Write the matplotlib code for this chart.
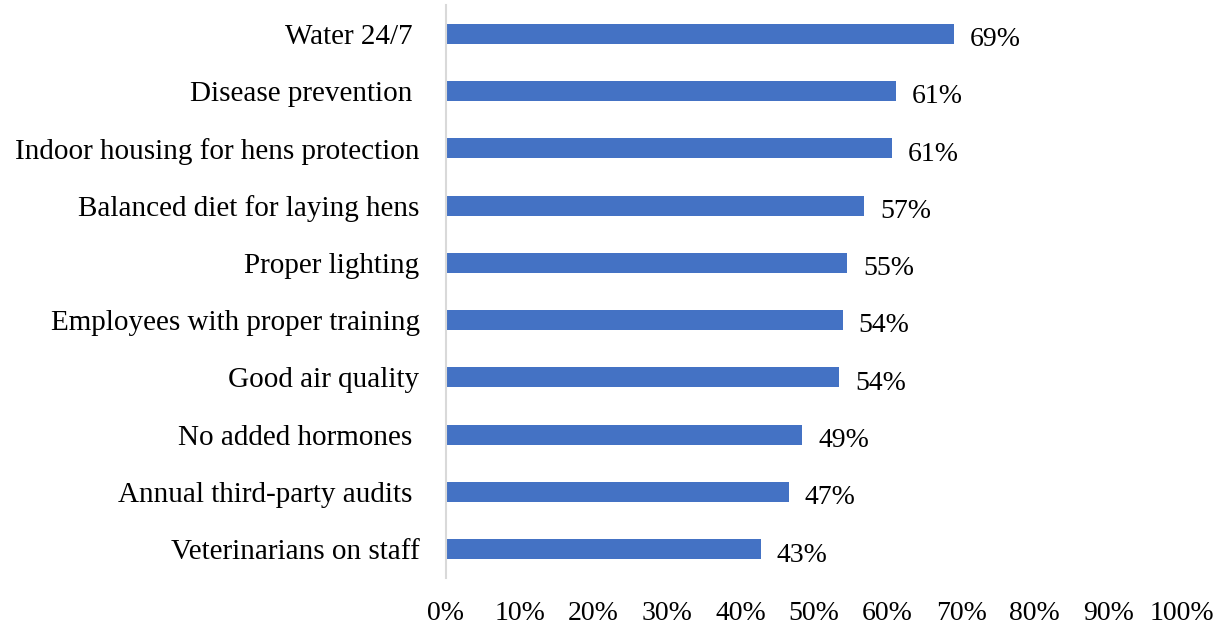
import matplotlib.pyplot as plt
from matplotlib.ticker import PercentFormatter

categories = ['Water 24/7 ', 'Disease prevention ', 'Indoor housing for hens protection',
              'Balanced diet for laying hens', 'Proper lighting',
              'Employees with proper training', 'Good air quality',
              'No added hormones ', 'Annual third-party audits ', 'Veterinarians on staff']
values = [0.690, 0.611, 0.606, 0.568, 0.545, 0.539, 0.534, 0.484, 0.466, 0.428]
labels = ['69%', '61%', '61%', '57%', '55%', '54%', '54%', '49%', '47%', '43%']
ticks = [i / 10 for i in range(11)]

plt.rcParams['font.family'] = ['Liberation Serif', 'DejaVu Serif']

fig = plt.figure(figsize=(12.19, 6.3), dpi=100)
ax = fig.add_axes([446 / 1219, 1 - 578 / 630, 736 / 1219, 573 / 630])

y = list(range(len(categories)))
ax.barh(y, values, height=0.35, color='#4472C4')
for yi, v, lab in zip(y, values, labels):
    ax.annotate(lab, (v, yi), xytext=(11.5, -2), textcoords='offset points',
                va='center_baseline', ha='left', fontsize=20)

ax.set_xlim(0, 1)
ax.set_ylim(len(categories) - 0.5, -0.5)
ax.set_yticks(y)
ax.set_yticklabels(categories, fontsize=21, va='center_baseline')
ax.set_xticks(ticks)
ax.xaxis.set_major_formatter(PercentFormatter(1.0, decimals=0))
ax.tick_params(axis='x', labelsize=20, length=0, pad=16.5)
ax.tick_params(axis='y', length=0, pad=19)

for s in ['top', 'right', 'bottom']:
    ax.spines[s].set_visible(False)
ax.spines['left'].set_color('#D9D9D9')
ax.spines['left'].set_linewidth(1.5)

fig.savefig('out.png', dpi=100)
